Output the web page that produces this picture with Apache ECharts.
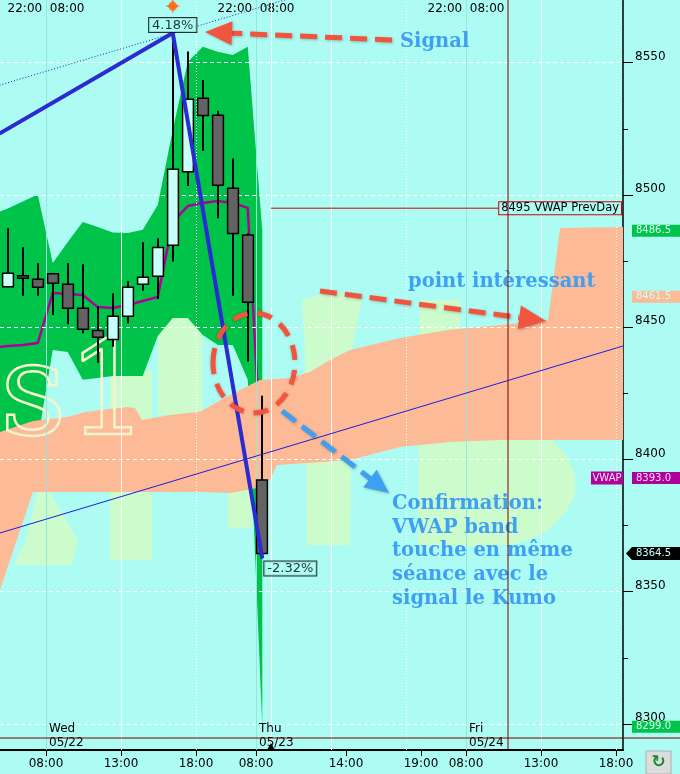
<!DOCTYPE html>
<html><head><meta charset="utf-8">
<script src="https://cdn.jsdelivr.net/npm/echarts@6/dist/echarts.min.js"></script>
<style>html,body{margin:0;padding:0;background:#adfcf3}#c{width:680px;height:774px}</style>
</head><body><div id="c"></div><script>
// ---------- DATA ----------
const candleT = [-2.55,-1.55,-0.55,0.45,1.45,2.45,3.45,4.45,5.45,6.45,7.45,8.45,9.45,10.45,11.45,12.45,13.45,14.42];
const candleOpen  = [8465.3,8469.5,8468.1,8470.2,8466.2,8457.2,8448.8,8445.4,8454.1,8466.2,8469.3,8481.0,8508.8,8536.6,8530.1,8502.5,8484.9,8392.2];
const candleClose = [8470.4,8468.5,8465.1,8466.6,8457.2,8449.2,8446.2,8454.1,8465.1,8468.9,8480.1,8509.7,8536.2,8530.0,8503.7,8485.4,8459.4,8364.5];
const candleLow   = [8465.0,8461.9,8461.9,8454.6,8451.1,8447.7,8436.6,8442.6,8451.5,8463.8,8460.7,8474.8,8503.4,8516.7,8491.2,8461.9,8437.0,8362.6];
const candleHigh  = [8487.4,8480.2,8474.2,8470.2,8474.2,8473.8,8457.8,8462.8,8467.5,8482.1,8483.6,8561.2,8554.2,8543.5,8531.8,8513.9,8485.5,8424.1];

const bandT  = [-3.07,-2.55,-1.55,-0.55,0.45,1.45,2.45,3.45,4.45,5.45,6.45,7.45,8.45,9.45,10.45,11.45,12.45,13.45,14.42];
const bandUp = [8493.7,8494.9,8497.5,8500.2,8474.3,8482.2,8489.8,8487.9,8485.8,8485.6,8486.8,8496.2,8524.6,8550.3,8556.0,8554.1,8552.9,8556.0,8486.5];
const bandLo = [8407.4,8407.4,8407.4,8407.4,8441.4,8440.6,8430.1,8430.8,8431.6,8431.6,8431.6,8446.7,8453.5,8453.5,8447.1,8443.3,8443.3,8430.1,8299.0];

const vwapT = bandT;
const vwapV = [8442.5,8442.9,8443.3,8444.0,8462.9,8462.6,8462.2,8457.6,8457.3,8458.4,8459.9,8461.4,8489.8,8495.8,8497.0,8497.7,8497.0,8495.1,8393.0];

const kumoUpT = [-3.07,-0.87,1.4,2.73,5.4,5.93,6.4,8.27,10.27,12.27,14.27,16.27,17.6,18.93,20.27,23.6,26.93,30.27,33.47,34.27,38.47];
const kumoUpV = [8410.4,8414.5,8416.1,8418.0,8419.8,8419.5,8414.9,8416.8,8418.0,8424.4,8430.0,8430.8,8433.1,8437.6,8441.4,8445.9,8449.0,8450.8,8452.7,8487.5,8487.9];
const kumoLoT = [-3.07,-2.4,-0.87,10.27,12.27,14.4,14.93,15.4,17.4,20.27,23.6,26.93,30.27,33.47,34.27,38.47];
const kumoLoV = [8350.7,8362.0,8387.7,8387.7,8387.3,8389.6,8392.2,8397.9,8398.7,8399.8,8404.7,8406.6,8407.4,8407.4,8407.4,8407.4];

const zigzagT = [-3.1,8.45,14.42];
const zigzagV = [8523.2,8561.2,8362.6];
const zigzagPct = ['','4.18%','-2.32%'];
const dottedT = [-3.1,16.5];
const dottedV = [8541.5,8574.7];
const trendT = [-3.07,38.47];
const trendV = [8372.2,8442.9];

const prevDayValue = 8495;
const prevDayStartT = 15;
const cursorT = 30.8, cursorV = 8294.7;

const axisTickT = [0,5,10,14,20,25,28,33,38];
const axisTickLabels = ['08:00','13:00','18:00','08:00','14:00','19:00','08:00','13:00','18:00'];
const sessionT = [0,14,28];
const dayNames = ['Wed','Thu','Fri'];
const dayDates = ['05/22','05/23','05/24'];
const solidGridT = [5,15,19,33];
const dottedGridT = [10,24,38];
const priceTicks = [8300,8350,8400,8450,8500,8550];
const priceMinor = [8325,8375,8425,8475,8525];

const markerValues = [8486.5,8461.5,8393.0,8364.5,8299.0];
const markerTexts  = ['8486.5','8461.5','8393.0','8364.5','8299.0'];
const signalMarkerT = 8.45, signalMarkerV = 8571.4;

// ---------- CHART ----------
const tMin = -46/15, tMax = (623-46)/15;
const yMin = 8290.17, yMax = 8573.70;
const BG = '#adfcf3';
const FONT = '12px "DejaVu Sans"';
const SMALL = '10px "DejaVu Sans"';

function polygonSeries(name, upT, upV, loT, loV, color, z){
  return {
    type:'custom', name, z, clip:true, silent:true,
    data:[[upT[0], upV[0]]], encode:{x:0,y:1},
    renderItem:function(params, api){
      if (params.dataIndex !== 0) return null;
      const pts = [];
      for (let i=0;i<upT.length;i++) pts.push(api.coord([upT[i], upV[i]]));
      for (let i=loT.length-1;i>=0;i--) pts.push(api.coord([loT[i], loV[i]]));
      return {type:'polygon', shape:{points:pts}, style:{fill:color}};
    }
  };
}

const gridMarks = [];
priceTicks.forEach(v => gridMarks.push({yAxis:v, lineStyle:{color:'#ffffff', width:1, type:[4,3]}}));
solidGridT.forEach(t => gridMarks.push({xAxis:t, lineStyle:{color:'#ffffff', width:1, type:'solid'}}));
dottedGridT.forEach(t => gridMarks.push({xAxis:t, lineStyle:{color:'#ffffff', width:1, type:[1,2]}}));
sessionT.forEach(t => gridMarks.push({xAxis:t, lineStyle:{color:'#97e6dc', width:1, type:'solid'}}));

const option = {
  backgroundColor: BG,
  animation:false,
  grid:{left:0, right:57, top:0, bottom:24},
  xAxis:[
    {type:'value', min:tMin, max:tMax, position:'bottom',
     axisLine:{show:true, onZero:false, lineStyle:{color:'#000', width:2}},
     axisTick:{show:true, customValues:axisTickT, length:6, lineStyle:{color:'#000'}},
     axisLabel:{show:true, customValues:axisTickT, margin:8, color:'#000', fontFamily:'DejaVu Sans', fontSize:12,
       formatter:(v)=>{const i=axisTickT.indexOf(Math.round(v)); return i>=0?axisTickLabels[i]:'';}},
     splitLine:{show:false}},
    {type:'value', min:tMin, max:tMax, position:'top',
     axisLine:{show:false, onZero:false}, axisTick:{show:false}, splitLine:{show:false},
     axisLabel:{show:true, inside:true, customValues:sessionT, margin:3, color:'#000', fontFamily:'DejaVu Sans', fontSize:12,
       formatter:()=> '22:00  08:00'}}
  ],
  yAxis:[
    {type:'value', min:yMin, max:yMax, position:'right',
     axisLine:{show:true, onZero:false, lineStyle:{color:'#000', width:1.5}},
     axisTick:{show:true, customValues:priceTicks, length:10, lineStyle:{color:'#000'}},
     axisLabel:{show:true, customValues:priceTicks, margin:12, color:'#000', fontFamily:'DejaVu Sans', fontSize:12, verticalAlign:'bottom',
       formatter:(v)=>String(Math.round(v))},
     splitLine:{show:false}},
    {type:'value', min:yMin, max:yMax, position:'right',
     axisLine:{show:false, onZero:false}, axisLabel:{show:false}, splitLine:{show:false},
     axisTick:{show:true, customValues:priceMinor, length:5, lineStyle:{color:'#000'}}}
  ],
  series:[
    {type:'line', name:'grid', z:1, silent:true, data:[[tMin,yMin]], symbol:'none', lineStyle:{opacity:0},
     markLine:{silent:true, symbol:['none','none'], label:{show:false}, animation:false, data:gridMarks}},
    polygonSeries('vwapBand', bandT, bandUp, bandT, bandLo, '#00c34a', 2),
    {type:'line', name:'vwap', z:3, data:vwapT.map((t,i)=>[t,vwapV[i]]), symbol:'none', silent:true,
     lineStyle:{color:'#b0009c', width:2.5}},
    polygonSeries('kumo', kumoUpT, kumoUpV, kumoLoT, kumoLoV, '#fdba96', 4),
    {type:'custom', name:'candles', z:5, silent:true,
     data:candleT.map((t,i)=>[t,candleOpen[i],candleClose[i],candleLow[i],candleHigh[i]]),
     encode:{x:0, y:[1,2,3,4]},
     renderItem:function(params, api){
       const t=api.value(0), o=api.value(1), c=api.value(2), l=api.value(3), h=api.value(4);
       const pO=api.coord([t,o]), pC=api.coord([t,c]), pL=api.coord([t,l]), pH=api.coord([t,h]);
       const w = api.size([1,0])[0]*0.72;
       const x = Math.round(pO[0]);
       const top=Math.min(pO[1],pC[1]), bot=Math.max(pO[1],pC[1]);
       return {type:'group', children:[
         {type:'line', shape:{x1:x,y1:pH[1],x2:x,y2:pL[1]}, style:{stroke:'#000',lineWidth:2}},
         {type:'rect', shape:{x:x-w/2,y:top,width:w,height:Math.max(bot-top,1.5)},
          style:{fill: c>=o?'#c9fffb':'#636363', stroke:'#000', lineWidth:1.5}}
       ]};
     }},
    {type:'line', name:'trend', z:6, data:trendT.map((t,i)=>[t,trendV[i]]), symbol:'none', silent:true,
     lineStyle:{color:'#1c1ce0', width:1}},
    {type:'line', name:'dotted', z:6, data:dottedT.map((t,i)=>[t,dottedV[i]]), symbol:'none', silent:true,
     lineStyle:{color:'#2020b0', width:1, type:[1,2]}},
    {type:'line', name:'zigzag', z:7, data:zigzagT.map((t,i)=>[t,zigzagV[i]]), symbol:'none', silent:true,
     lineStyle:{color:'#2b2bd2', width:4}},
    {type:'line', name:'prevday', z:6, data:[[prevDayStartT,prevDayValue],[tMax,prevDayValue]], symbol:'none', silent:true,
     lineStyle:{color:'#c80000', width:1}},
    {type:'scatter', name:'pct', z:9, silent:true, symbolSize:0,
     data:[
       {value:[zigzagT[1],zigzagV[1]], label:{show:true, formatter:zigzagPct[1], position:'top', distance:1}},
       {value:[zigzagT[2],zigzagV[2]], label:{show:true, formatter:zigzagPct[2], position:'bottom', distance:3, align:'left', offset:[2,0]}}
     ],
     label:{color:'#000', fontFamily:'DejaVu Sans', fontSize:13, backgroundColor:BG, borderColor:'#000', borderWidth:1, padding:[1,3,0,3]}},
    {type:'scatter', name:'sigstar', z:9, silent:true, data:[[signalMarkerT,signalMarkerV]],
     symbol:'path://M0,-10 L2.5,-2.5 L10,0 L2.5,2.5 L0,10 L-2.5,2.5 L-10,0 L-2.5,-2.5 Z', symbolSize:15,
     itemStyle:{color:'#ff6a10'}},
    {type:'scatter', name:'sigdot', z:9, silent:true, data:[[signalMarkerT,signalMarkerV]],
     symbol:'circle', symbolSize:9, itemStyle:{color:'#ff6a10'}}
  ]
};

const chart = echarts.init(document.getElementById('c'));
chart.setOption(option);

const yp = v => chart.convertToPixel({yAxisIndex:0}, v);
const xp = t => chart.convertToPixel({xAxisIndex:0}, t);

const RED = '#f2553f', BLUE = '#3f9ff2', WM = '#ccfccb';
function arrow(x1,y1,x2,y2,color,hl,hw,dash){
  const dx=x2-x1, dy=y2-y1, L=Math.hypot(dx,dy), ux=dx/L, uy=dy/L;
  const bx=x2-ux*hl, by=y2-uy*hl;
  return [
    {type:'polyline', z:100, shape:{points:[[x1,y1],[bx,by]]},
     style:{stroke:color, lineWidth:5, lineDash:dash, fill:null, shadowBlur:3, shadowColor:'rgba(0,0,0,0.25)', shadowOffsetX:1, shadowOffsetY:1}},
    {type:'polygon', z:100, shape:{points:[[x2,y2],[bx-uy*hw,by+ux*hw],[bx+uy*hw,by-ux*hw]]},
     style:{fill:color, shadowBlur:3, shadowColor:'rgba(0,0,0,0.25)', shadowOffsetX:1, shadowOffsetY:1}}
  ];
}
const annoFont = 'bold 19.5px "DejaVu Serif"';
const g = [];
// faint background watermark shapes (behind everything)
[
  [[38,490],[48,490],[78,540],[72,565],[14,565],[26,540]],
  [[110,370],[152,370],[152,560],[110,560]],
  [[158,310],[202,310],[202,415],[158,415]],
  [[228,490],[252,490],[252,528],[228,528]],
  [[302,300],[330,291],[362,298],[352,350],[350,545],[307,545],[305,350]],
  [[420,300],[460,300],[460,440],[552,440],[566,455],[575,475],[575,495],[566,512],[552,527],[535,538],[515,544],[490,546],[418,546]]
].forEach(pts => g.push({type:'polygon', z:0.5, silent:true, shape:{points:pts}, style:{fill:WM}}));
// outlined "s1" text
g.push({type:'text', z:4.5, silent:true, style:{text:'s1', x:0, y:400, font:'130px "DejaVu Serif"', fill:'rgba(0,0,0,0)', stroke:'#f7f3cf', lineWidth:2.5, verticalAlign:'middle'}});
// annotations
g.push(...arrow(392,40,205,32,RED,27,12,[17,8]));
g.push({type:'text', z:100, style:{text:'Signal', x:400, y:42, font:annoFont, fill:BLUE, verticalAlign:'middle'}});
g.push(...arrow(320,291,546,321,RED,27,12,[17,8]));
g.push({type:'text', z:100, style:{text:'point intèressant', x:408, y:282, font:annoFont, fill:BLUE, verticalAlign:'middle'}});
g.push({type:'ellipse', z:100, shape:{cx:254, cy:363, rx:41, ry:50}, style:{stroke:RED, lineWidth:5, lineDash:[15,10], fill:null, shadowBlur:3, shadowColor:'rgba(0,0,0,0.25)'}});
g.push(...arrow(282,411,389,493,BLUE,24,11,[17,8]));
['Confirmation:','VWAP band','touche en même','séance avec le','signal le Kumo'].forEach((s,i)=>{
  g.push({type:'text', z:100, style:{text:s, x:392, y:504+i*23.7, font:annoFont, fill:BLUE, verticalAlign:'middle'}});
});
// day labels
sessionT.forEach((t,i)=>{
  const x = xp(t)+3;
  g.push({type:'text', z:50, style:{text:dayNames[i], x, y:729, font:FONT, fill:'#000', verticalAlign:'middle'}});
  g.push({type:'text', z:50, style:{text:dayDates[i], x, y:743, font:FONT, fill:'#000', verticalAlign:'middle'}});
});
// cursor cross-hair
g.push({type:'line', z:120, shape:{x1:xp(cursorT), y1:0, x2:xp(cursorT), y2:750}, style:{stroke:'#7a0000', lineWidth:1}});
g.push({type:'line', z:120, shape:{x1:0, y1:yp(cursorV), x2:680, y2:yp(cursorV)}, style:{stroke:'#7a0000', lineWidth:1}});
g.push({type:'polygon', z:120, shape:{points:[[xp(prevDayStartT)-4,750],[xp(prevDayStartT),743],[xp(prevDayStartT)+4,750]]}, style:{fill:'#000'}});
// prev-day label
g.push({type:'text', z:110, style:{text:prevDayValue+' VWAP PrevDay', x:621, y:yp(prevDayValue), font:'11.5px "DejaVu Sans"', fill:'#000', align:'right', verticalAlign:'middle',
  backgroundColor:BG, borderColor:'#d00000', borderWidth:1, padding:[0,2,0,2]}});
// right-hand value markers
const markerBg = ['#00c34a','#fdba96','#b0009c','#000000','#00c34a'];
const markerFg = ['#d9fff4','#c8fff8','#f4e0f4','#c8fff8','#d9fff4'];
markerValues.forEach((v,i)=>{
  const y = yp(v);
  if (i===3) {
    g.push({type:'polygon', z:110, shape:{points:[[626,y],[632,y-6.5],[680,y-6.5],[680,y+6.5],[632,y+6.5]]}, style:{fill:markerBg[i]}});
  } else {
    g.push({type:'rect', z:110, shape:{x:632, y:y-6, width:48, height:12}, style:{fill:markerBg[i]}});
  }
  g.push({type:'text', z:111, style:{text:markerTexts[i], x:636, y:y, font:SMALL, fill:markerFg[i], verticalAlign:'middle'}});
  if (i===2) {
    g.push({type:'rect', z:110, shape:{x:591, y:y-6.5, width:32, height:13}, style:{fill:markerBg[i]}});
    g.push({type:'text', z:111, style:{text:'VWAP', x:607, y:y, font:SMALL, fill:markerFg[i], align:'center', verticalAlign:'middle'}});
  }
});
// refresh button
g.push({type:'rect', z:110, shape:{x:646, y:751, width:25, height:23}, style:{fill:'#dcdcdc', stroke:'#b0b0b0'}});
g.push({type:'text', z:111, style:{text:'↻', x:658.5, y:763, font:'bold 17px "DejaVu Sans"', fill:'#1a8a2a', align:'center', verticalAlign:'middle'}});

chart.setOption({graphic:{elements:g}});
</script></body></html>
